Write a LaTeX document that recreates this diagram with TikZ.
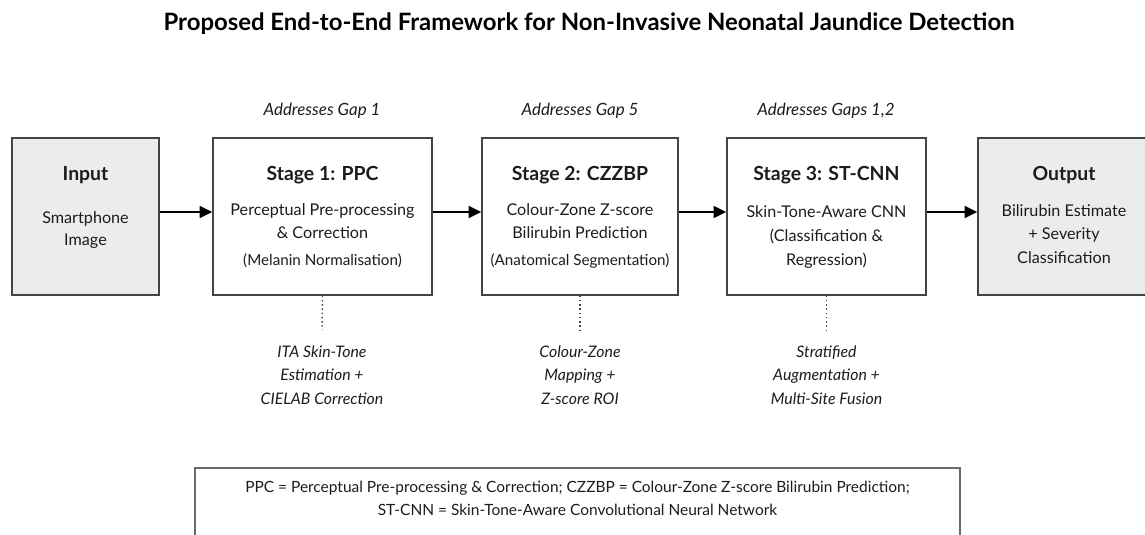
\documentclass[tikz,border=0pt]{standalone}
\usepackage{fontspec}
\setmainfont{Lato}
\usetikzlibrary{positioning, calc, arrows.meta}
\definecolor{boxgray}{RGB}{236,236,236}
\definecolor{edgegray}{RGB}{68,68,68}
\definecolor{inkgray}{RGB}{28,28,28}

\begin{document}
\begin{tikzpicture}[x=0.025cm, y=-0.025cm,
    stagebox/.style={draw=edgegray, line width=1.1pt, fill=white, minimum height=3.925cm, inner sep=0pt},
    endbox/.style={stagebox, fill=boxgray},
    heading/.style={font=\bfseries\fontsize{13.8}{16}\selectfont, text=inkgray, anchor=base},
    bodytext/.style={font=\fontsize{11.5}{16}\selectfont, align=center, text=inkgray},
    parennote/.style={font=\fontsize{10.8}{13}\selectfont, text=inkgray},
    gaplabel/.style={font=\itshape\fontsize{12}{14}\selectfont, text=inkgray},
    notetext/.style={font=\itshape\fontsize{11.3}{16.7}\selectfont, align=center, text=inkgray},
    flow/.style={-{Triangle[length=9pt,width=8.5pt]}, line width=1.3pt, draw=black},
    link/.style={dotted, line width=1pt, draw=edgegray}
]
\useasboundingbox (0,0) rectangle (1145,534);

% Title
\node[font=\bfseries\fontsize{17}{20}\selectfont, anchor=base, text=black] (title) at (589,30)
    {Proposed End-to-End Framework for Non-Invasive Neonatal Jaundice Detection};

% Gap labels
\node[gaplabel] (gap1) at (322,111) {Addresses Gap 1};
\node[gaplabel] (gap5) at (580,111) {Addresses Gap 5};
\node[gaplabel] (gap12) at (826,111) {Addresses Gaps 1,2};

% Pipeline boxes
\node[endbox, minimum width=3.675cm] (input) at (85.5,216.5) {};
\node[stagebox, minimum width=5.475cm] (ppc) at (322.5,216.5) {};
\node[stagebox, minimum width=4.9cm] (czzbp) at (580,216.5) {};
\node[stagebox, minimum width=4.975cm] (stcnn) at (826.5,216.5) {};
\node[endbox, minimum width=4.3cm] (output) at (1064,216.5) {};

% Box contents
\node[heading] (inputhead) at (85.5,180) {Input};
\node[bodytext] (inputbody) at (85.5,230) {Smartphone\\Image};

\node[heading] (ppchead) at (322.5,180) {Stage 1: PPC};
\node[bodytext] (ppcbody) at (322.5,221) {Perceptual Pre-processing\\\& Correction};
\node[parennote] (ppcnote) at (322.5,261) {(Melanin Normalisation)};

\node[heading] (czzbphead) at (580,180) {Stage 2: CZZBP};
\node[bodytext] (czzbpbody) at (580,221) {Colour-Zone Z-score\\Bilirubin Prediction};
\node[parennote] (czzbpnote) at (580,261) {(Anatomical Segmentation)};

\node[heading] (stcnnhead) at (826.5,180) {Stage 3: ST-CNN};
\node[bodytext, font=\fontsize{11.5}{17}\selectfont] (stcnnbody) at (826.5,237)
    {Skin-Tone-Aware CNN\\(Classification \&\\Regression)};

\node[heading] (outputhead) at (1064,180) {Output};
\node[bodytext, font=\fontsize{11.5}{16.5}\selectfont] (outputbody) at (1064,234)
    {Bilirubin Estimate\\+ Severity\\Classification};

% Flow arrows
\draw[flow] (input.east |- 0,212) -- (ppc.west |- 0,212);
\draw[flow] (ppc.east |- 0,212) -- (czzbp.west |- 0,212);
\draw[flow] (czzbp.east |- 0,212) -- (stcnn.west |- 0,212);
\draw[flow] (stcnn.east |- 0,212) -- (output.west |- 0,212);

% Method notes
\node[notetext] (ppcmethod) at (322,375) {ITA Skin-Tone\\Estimation +\\CIELAB Correction};
\node[notetext] (czzbpmethod) at (580,375) {Colour-Zone\\Mapping +\\Z-score ROI};
\node[notetext] (stcnnmethod) at (826.5,375) {Stratified\\Augmentation +\\Multi-Site Fusion};

\coordinate (ppcend) at (322,330);
\coordinate (czzbpend) at (580,330);
\coordinate (stcnnend) at (826.5,330);
\draw[link] (ppc.south) -- (ppcend);
\draw[link] (czzbp.south) -- (czzbpend);
\draw[link] (stcnn.south) -- (stcnnend);

% Legend
\draw[draw=edgegray!80, line width=0.8pt] (195,468) rectangle (960,540);
\node[bodytext, font=\fontsize{11}{16.4}\selectfont] (legend) at (577.5,498.5)
    {PPC = Perceptual Pre-processing \& Correction; CZZBP = Colour-Zone Z-score Bilirubin Prediction;\\
     ST-CNN = Skin-Tone-Aware Convolutional Neural Network};
\end{tikzpicture}
\end{document}
